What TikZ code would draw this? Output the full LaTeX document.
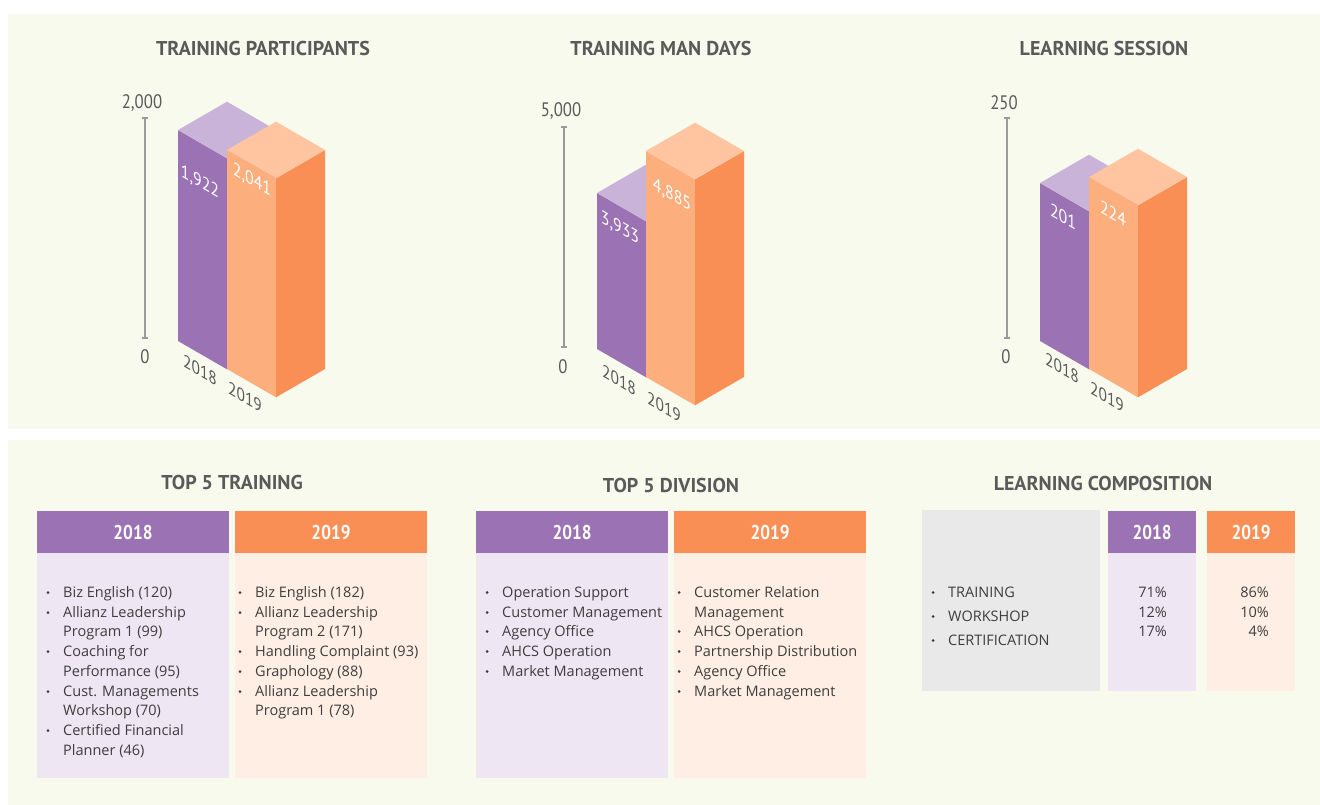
\documentclass[tikz,border=0pt]{standalone}
\usepackage{fontspec}
\setmainfont{Open Sans}
\newfontfamily\nfont[FakeStretch=0.86]{PT Sans}
\newfontfamily\tfont{PT Sans}
\definecolor{panel}{HTML}{F8FAED}
\definecolor{purF}{HTML}{9B72B3}
\definecolor{purS}{HTML}{86609E}
\definecolor{purT}{HTML}{C9B3D8}
\definecolor{orF}{HTML}{FDAE7D}
\definecolor{orS}{HTML}{FA8F55}
\definecolor{orT}{HTML}{FEC5A0}
\definecolor{purL}{HTML}{EFE6F3}
\definecolor{orL}{HTML}{FEEEE3}
\definecolor{grayBox}{HTML}{E9E9E9}
\definecolor{ttlc}{HTML}{5A5A5A}
\definecolor{txtc}{HTML}{3E3E3E}
\definecolor{axisc}{HTML}{9A9A9A}
\tikzset{
  ttl/.style={font=\tfont\bfseries\fontsize{20}{24}\selectfont, text=ttlc, inner sep=0},
  hdr/.style={font=\nfont\bfseries\fontsize{20}{24}\selectfont, text=white, inner sep=0},
  axl/.style={font=\nfont\fontsize{19.5}{22}\selectfont, text=ttlc, inner sep=0},
  vlab/.style={font=\nfont\fontsize{18.5}{20}\selectfont, text=white, inner sep=0, yslant=-0.58},
  ylab/.style={font=\nfont\fontsize{18}{20}\selectfont, text=ttlc, inner sep=0, yslant=-0.58},
  itx/.style={font=\fontsize{14.5}{18}\selectfont, text=txtc, inner sep=0, anchor=base west},
  pct/.style={font=\fontsize{14.5}{18}\selectfont, text=txtc, inner sep=0, anchor=base east},
  axisline/.style={draw=axisc, line width=1.2pt},
}
\newcommand\isobar[7]{%
  \fill[#5] (#2,#3) -- ({#2+49},{#3+28.3}) -- ({#2+49},{#3+28.3-#4}) -- (#2,{#3-#4}) -- cycle;
  \fill[#6] ({#2+49},{#3+28.3}) -- ({#2+98},#3) -- ({#2+98},{#3-#4}) -- ({#2+49},{#3+28.3-#4}) -- cycle;
  \fill[#7] (#2,{#3-#4}) -- ({#2+49},{#3+28.3-#4}) -- ({#2+98},{#3-#4}) -- ({#2+49},{#3-28.3-#4}) -- cycle;
}
\newcommand\axisbar[3]{% x, top, bottom
  \draw[axisline] (#1,#2) -- (#1,#3);
  \draw[axisline] ({#1-3},#2) -- ({#1+3},#2);
  \draw[axisline] ({#1-3},#3) -- ({#1+3},#3);
}
\newcommand\litem[4]{\fill[txtc] ({#2-15},{#3+0.5}) circle (1.5); \node[itx] (#1) at (#2,{#3+5}) {#4};}
\newcommand\cont[4]{\node[itx] (#1) at (#2,{#3+5}) {#4};}
\begin{document}
\begin{tikzpicture}[x=1pt,y=-1pt]
\useasboundingbox (0,0) rectangle (1320,805);
\fill[white] (0,0) rectangle (1320,805);
\fill[panel] (8,14) rectangle (1320,429);
\fill[panel] (8,440) rectangle (1320,805);

% ---------- chart 1
\node[ttl] (t1) at (263,49) {TRAINING PARTICIPANTS};
\axisbar{145}{118}{338}
\node[axl] (a1max) at (142,103) {2,000};
\node[axl] (a1min) at (145,357) {0};
\isobar{p1}{178}{341}{211}{purF}{purS}{purT}
\isobar{o1}{227}{369}{219}{orF}{orS}{orT}
\node[vlab] (v1a) at (200,182) {1,922};
\node[vlab] (v1b) at (252,180) {2,041};
\node[ylab] (y1a) at (200,370) {2018};
\node[ylab] (y1b) at (245,397) {2019};

% ---------- chart 2
\node[ttl] (t2) at (661,49) {TRAINING MAN DAYS};
\axisbar{564}{127}{347}
\node[axl] (a2max) at (561,111) {5,000};
\node[axl] (a2min) at (563,367) {0};
\isobar{p2}{597}{349}{156}{purF}{purS}{purT}
\isobar{o2}{646}{377}{226}{orF}{orS}{orT}
\node[vlab] (v2a) at (620,228) {3,933};
\node[vlab] (v2b) at (672,195) {4,885};
\node[ylab] (y2a) at (619,380) {2018};
\node[ylab] (y2b) at (664,407) {2019};

% ---------- chart 3
\node[ttl] (t3) at (1104,49) {LEARNING SESSION};
\axisbar{1007}{118}{338}
\node[axl] (a3max) at (1004,103) {250};
\node[axl] (a3min) at (1006,357) {0};
\isobar{p3}{1040}{341}{158}{purF}{purS}{purT}
\isobar{o3}{1089}{369}{192}{orF}{orS}{orT}
\node[vlab] (v3a) at (1063,217) {201};
\node[vlab] (v3b) at (1113,213) {224};
\node[ylab] (y3a) at (1062,368) {2018};
\node[ylab] (y3b) at (1107,397) {2019};

% ---------- Top 5 training
\node[ttl] (t4) at (232,482) {TOP 5 TRAINING};
\fill[purF] (37,511) rectangle (229,553);
\fill[orS] (235,511) rectangle (427,553);
\fill[purL] (37,553) rectangle (229,778);
\fill[orL] (235,553) rectangle (427,778);
\node[hdr] (h4a) at (133,532) {2018};
\node[hdr] (h4b) at (331,532) {2019};
\litem{a1}{63}{592}{Biz English (120)}
\litem{a2}{63}{612}{Allianz Leadership}
\cont{a2b}{63}{631}{Program 1 (99)}
\litem{a3}{63}{651}{Coaching for}
\cont{a3b}{63}{671}{Performance (95)}
\litem{a4}{63}{691}{Cust. Managements}
\cont{a4b}{63}{710}{Workshop (70)}
\litem{a5}{63}{730}{Certified Financial}
\cont{a5b}{63}{750}{Planner (46)}
\litem{b1}{255}{592}{Biz English (182)}
\litem{b2}{255}{612}{Allianz Leadership}
\cont{b2b}{255}{631}{Program 2 (171)}
\litem{b3}{255}{651}{Handling Complaint (93)}
\litem{b4}{255}{671}{Graphology (88)}
\litem{b5}{255}{691}{Allianz Leadership}
\cont{b5b}{255}{710}{Program 1 (78)}

% ---------- Top 5 division
\node[ttl] (t5) at (671,485) {TOP 5 DIVISION};
\fill[purF] (476,511) rectangle (668,553);
\fill[orS] (674,511) rectangle (866,553);
\fill[purL] (476,553) rectangle (668,778);
\fill[orL] (674,553) rectangle (866,778);
\node[hdr] (h5a) at (572,532) {2018};
\node[hdr] (h5b) at (770,532) {2019};
\litem{c1}{502}{592}{Operation Support}
\litem{c2}{502}{612}{Customer Management}
\litem{c3}{502}{631}{Agency Office}
\litem{c4}{502}{651}{AHCS Operation}
\litem{c5}{502}{671}{Market Management}
\litem{d1}{694}{592}{Customer Relation}
\cont{d1b}{694}{612}{Management}
\litem{d2}{694}{631}{AHCS Operation}
\litem{d3}{694}{651}{Partnership Distribution}
\litem{d4}{694}{671}{Agency Office}
\litem{d5}{694}{691}{Market Management}

% ---------- Learning composition
\node[ttl] (t6) at (1103,483) {LEARNING COMPOSITION};
\fill[grayBox] (922,510) rectangle (1100,691);
\fill[purF] (1108,511) rectangle (1196,553);
\fill[orS] (1207,511) rectangle (1295,553);
\fill[purL] (1108,553) rectangle (1196,691);
\fill[orL] (1207,553) rectangle (1295,691);
\node[hdr] (h6a) at (1152,532) {2018};
\node[hdr] (h6b) at (1251,532) {2019};
\litem{e1}{948}{592}{TRAINING}
\litem{e2}{948}{616}{WORKSHOP}
\litem{e3}{948}{640}{CERTIFICATION}
\node[pct] (f1) at (1167,597) {71\%};
\node[pct] (f2) at (1167,617) {12\%};
\node[pct] (f3) at (1167,636) {17\%};
\node[pct] (g1) at (1269,597) {86\%};
\node[pct] (g2) at (1269,617) {10\%};
\node[pct] (g3) at (1269,636) {4\%};
\end{tikzpicture}
\end{document}
